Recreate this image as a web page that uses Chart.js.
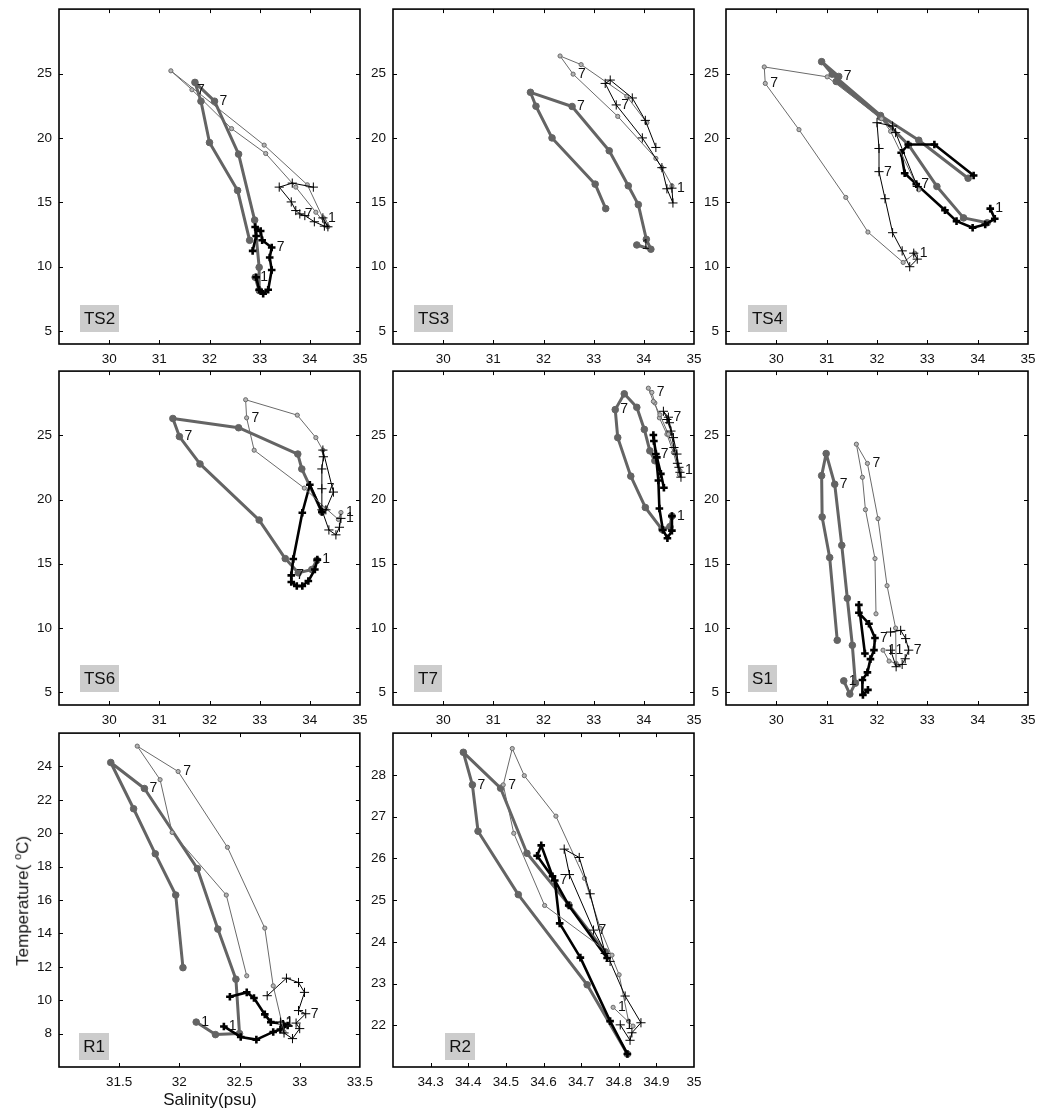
<!DOCTYPE html>
<html>
<head>
<meta charset="utf-8">
<script src="https://cdn.jsdelivr.net/npm/chart.js@4.4.1/dist/chart.umd.min.js"></script>
<style>
  html, body { margin: 0; padding: 0; background: #fff; }
  #wrap { position: relative; width: 1038px; height: 1110px; overflow: hidden;
          font-family: "Liberation Sans", Arial, Helvetica, sans-serif; color: #111; }
  #wrap canvas { position: absolute; }
  .axtitle { position: absolute; font-size: 17px; white-space: nowrap; text-align: center; line-height: 20px; }
  .axtitle sup { font-size: 11px; }
</style>
</head>
<body>
<div id="wrap"></div>
<script>
// ---- tick values ----
const tsSalTicks = [30, 31, 32, 33, 34, 35];
const tsTmpTicks = [5, 10, 15, 20, 25];
const r1SalTicks = [31.5, 32, 32.5, 33, 33.5];
const r1TmpTicks = [8, 10, 12, 14, 16, 18, 20, 22, 24];
const r2SalTicks = [34.3, 34.4, 34.5, 34.6, 34.7, 34.8, 34.9, 35];
const r2TmpTicks = [22, 23, 24, 25, 26, 27, 28];

// ---- station TS2 ----
const TS2_salA = [32.91, 32.99, 32.99, 32.90, 32.58, 32.10, 31.71, 31.83, 32.00, 32.56, 32.80];
const TS2_tmpA = [9.18, 8.15, 9.95, 13.62, 18.74, 22.85, 24.31, 22.85, 19.64, 15.92, 12.05];
const TS2_salB = [32.93, 32.99, 33.07, 33.17, 33.24, 33.20, 33.24, 33.05, 33.02, 32.91, 32.93, 32.86];
const TS2_tmpB = [9.18, 8.21, 7.90, 8.21, 9.74, 10.72, 11.49, 12.05, 12.77, 13.08, 12.38, 11.23];
const TS2_salC = [34.27, 34.36, 34.12, 33.72, 33.12, 32.44, 31.65, 31.23, 33.09, 33.95, 34.29];
const TS2_tmpC = [13.79, 13.10, 14.23, 16.18, 18.79, 20.72, 23.74, 25.21, 19.44, 16.36, 13.54];
const TS2_salD = [34.26, 34.36, 34.29, 34.09, 33.90, 33.80, 33.72, 33.63, 33.39, 33.65, 34.07];
const TS2_tmpD = [13.79, 13.10, 13.15, 13.49, 13.97, 14.10, 14.36, 15.03, 16.18, 16.49, 16.18];
const TS2_marks = [['A', 0, '1'], ['A', 5, '7'], ['B', 6, '7'], ['C', 6, '7'], ['D', 0, '1'], ['D', 5, '7']];

// ---- station TS3 ----
const TS3_salA = [33.86, 34.14, 34.05, 33.89, 33.69, 33.31, 32.57, 31.74, 31.85, 32.17, 33.03, 33.24];
const TS3_tmpA = [11.69, 11.36, 12.13, 14.82, 16.28, 19.0, 22.44, 23.54, 22.46, 20.0, 16.41, 14.51];
const TS3_salC = [34.56, 34.36, 34.24, 33.48, 32.59, 32.33, 32.75, 33.66, 34.06];
const TS3_tmpC = [16.28, 17.69, 18.41, 21.67, 24.95, 26.36, 25.69, 23.23, 21.18];
const TS3_salD = [34.56, 34.58, 34.46, 34.36, 33.97, 33.45, 33.23, 33.33, 33.77, 34.03, 34.24];
const TS3_tmpD = [16.10, 14.95, 16.05, 17.69, 20.0, 22.56, 24.23, 24.49, 23.1, 21.36, 19.26];
const TS3_marks = [['A', 0, '1'], ['A', 6, '7'], ['C', 4, '7'], ['D', 0, '1'], ['D', 5, '7']];

// ---- station TS4 ----
const TS4_salA = [34.19, 33.72, 33.19, 32.63, 32.07, 31.19, 31.24, 30.90, 31.11, 32.07, 32.83, 33.81];
const TS4_tmpA = [13.41, 13.79, 16.23, 19.44, 21.62, 24.38, 24.77, 25.92, 24.95, 21.74, 19.82, 16.87];
const TS4_salB = [34.25, 34.34, 34.15, 33.90, 33.58, 33.35, 32.78, 32.55, 32.48, 32.62, 33.14, 33.92];
const TS4_tmpB = [14.51, 13.72, 13.28, 13.03, 13.54, 14.38, 16.41, 17.26, 18.85, 19.49, 19.49, 17.08];
const TS4_salC = [32.75, 32.52, 31.82, 31.38, 30.45, 29.78, 29.76, 31.01, 32.09, 32.27, 32.83];
const TS4_tmpC = [11.05, 10.33, 12.69, 15.38, 20.64, 24.23, 25.51, 24.74, 21.49, 20.51, 15.97];
const TS4_salD = [32.73, 32.80, 32.65, 32.50, 32.31, 32.16, 32.04, 32.04, 32.0, 32.31, 32.37, 32.80];
const TS4_tmpD = [11.05, 10.59, 10.0, 11.23, 12.64, 15.28, 17.38, 19.18, 21.18, 20.92, 20.41, 16.23];
const TS4_marks = [['A', 6, '7'], ['B', 0, '1'], ['B', 6, '7'], ['C', 0, '1'], ['C', 5, '7'], ['D', 6, '7']];

// ---- station TS6 ----
const TS6_salA = [34.14, 34.04, 33.77, 33.51, 32.99, 31.81, 31.40, 31.27, 32.58, 33.76, 33.84, 34.24];
const TS6_tmpA = [15.27, 14.55, 14.29, 15.40, 18.40, 22.77, 24.90, 26.31, 25.59, 23.54, 22.38, 19.04];
const TS6_salB = [34.15, 34.10, 33.97, 33.85, 33.74, 33.63, 33.63, 33.67, 33.85, 34.0, 34.24];
const TS6_tmpB = [15.32, 14.55, 13.65, 13.27, 13.27, 13.58, 14.09, 15.37, 18.97, 21.15, 19.04];
const TS6_salC = [34.62, 34.57, 34.32, 33.89, 32.89, 32.74, 32.72, 33.75, 34.12, 34.26];
const TS6_tmpC = [18.99, 18.45, 19.30, 20.89, 23.84, 26.36, 27.77, 26.57, 24.82, 23.84];
const TS6_salD = [34.62, 34.59, 34.52, 34.38, 34.24, 34.24, 34.24, 34.27, 34.26, 34.47, 34.32];
const TS6_tmpD = [18.53, 17.84, 17.25, 17.63, 19.20, 20.84, 22.38, 23.33, 23.85, 20.58, 19.20];
const TS6_marks = [['A', 6, '7'], ['B', 0, '1'], ['B', 6, '7'], ['C', 0, '1'], ['C', 5, '7'], ['D', 0, '1'], ['D', 5, '7']];

// ---- station T7 ----
const T7_salA = [34.56, 34.52, 34.36, 34.03, 33.74, 33.48, 33.43, 33.61, 33.86, 34.01, 34.12, 34.22];
const T7_tmpA = [18.71, 17.89, 17.68, 19.38, 21.82, 24.82, 27.0, 28.23, 27.18, 25.46, 23.79, 23.02];
const T7_salB = [34.56, 34.56, 34.47, 34.38, 34.31, 34.29, 34.24, 34.19, 34.20, 34.26, 34.34, 34.40];
const T7_tmpB = [18.71, 17.58, 16.99, 17.63, 19.30, 21.48, 23.54, 25.03, 24.56, 23.28, 22.0, 20.92];
const T7_salC = [34.72, 34.71, 34.59, 34.46, 34.31, 34.22, 34.16, 34.09, 34.19, 34.32, 34.49, 34.62];
const T7_tmpC = [22.25, 21.94, 23.66, 25.08, 26.36, 27.52, 28.34, 28.67, 27.64, 26.6, 25.08, 23.66];
const T7_salD = [34.72, 34.74, 34.67, 34.60, 34.54, 34.46, 34.49, 34.39, 34.51, 34.59, 34.66, 34.70];
const T7_tmpD = [22.12, 21.74, 22.82, 24.05, 25.33, 26.23, 26.41, 26.87, 25.98, 24.82, 23.54, 22.51];
const T7_marks = [['A', 6, '7'], ['B', 0, '1'], ['B', 6, '7'], ['C', 0, '1'], ['C', 6, '7'], ['D', 6, '7']];

// ---- station S1 ----
const S1_salA = [31.34, 31.46, 31.57, 31.51, 31.41, 31.30, 31.16, 30.99, 30.90, 30.91, 31.06, 31.21];
const S1_tmpA = [5.88, 4.85, 5.70, 8.65, 12.31, 16.43, 21.19, 23.58, 21.86, 18.64, 15.48, 9.04];
const S1_salB = [31.82, 31.72, 31.71, 31.81, 31.87, 31.94, 31.96, 31.84, 31.64, 31.64, 31.76];
const S1_tmpB = [5.18, 4.79, 5.95, 6.54, 7.57, 8.27, 9.22, 10.33, 11.18, 11.80, 8.01];
const S1_salC = [32.12, 32.24, 32.38, 32.37, 32.20, 32.02, 31.81, 31.59, 31.71, 31.77, 31.96, 31.98];
const S1_tmpC = [8.27, 7.42, 7.24, 9.99, 13.29, 18.51, 22.81, 24.31, 21.73, 19.21, 15.40, 11.10];
const S1_salD = [32.27, 32.38, 32.50, 32.56, 32.63, 32.57, 32.47, 32.27];
const S1_tmpD = [8.27, 6.98, 7.16, 7.60, 8.27, 9.17, 9.81, 9.68];
const S1_marks = [['A', 0, '1'], ['A', 6, '7'], ['B', 6, '7'], ['C', 0, '1'], ['C', 6, '7'], ['D', 0, '1'], ['D', 4, '7']];

// ---- station R1 ----
const R1_salA = [32.14, 32.30, 32.50, 32.47, 32.32, 32.15, 31.71, 31.43, 31.62, 31.80, 31.97, 32.03];
const R1_tmpA = [8.69, 7.94, 8.0, 11.26, 14.26, 17.88, 22.68, 24.24, 21.47, 18.77, 16.30, 11.95];
const R1_salB = [32.37, 32.51, 32.64, 32.78, 32.84, 32.90, 32.86, 32.76, 32.71, 32.62, 32.56, 32.42];
const R1_tmpB = [8.43, 7.80, 7.64, 8.10, 8.24, 8.49, 8.59, 8.69, 9.15, 10.13, 10.47, 10.21];
const R1_salC = [32.84, 32.87, 32.78, 32.71, 32.40, 31.99, 31.65, 31.84, 31.94, 32.39, 32.56];
const R1_tmpC = [8.63, 8.10, 10.86, 14.32, 19.16, 23.70, 25.22, 23.21, 20.05, 16.30, 11.46];
const R1_salD = [32.84, 32.87, 32.94, 33.0, 32.97, 33.05, 32.99, 33.04, 32.99, 32.89, 32.73];
const R1_tmpD = [8.69, 8.04, 7.70, 8.30, 8.63, 9.19, 9.38, 10.47, 11.06, 11.32, 10.27];
const R1_marks = [['A', 0, '1'], ['A', 6, '7'], ['B', 0, '1'], ['C', 0, '1'], ['C', 5, '7'], ['D', 0, '1'], ['D', 5, '7']];

// ---- station R2 ----
const R2_salA = [34.823, 34.716, 34.533, 34.426, 34.411, 34.387, 34.486, 34.556, 34.667, 34.764];
const R2_tmpA = [21.31, 22.97, 25.13, 26.65, 27.76, 28.54, 27.68, 26.12, 24.89, 23.76];
const R2_salB = [34.823, 34.777, 34.698, 34.643, 34.630, 34.583, 34.594, 34.624, 34.667, 34.769];
const R2_tmpB = [21.31, 22.10, 23.62, 24.44, 25.47, 26.06, 26.31, 25.57, 24.87, 23.61];
const R2_salC = [34.785, 34.838, 34.826, 34.801, 34.751, 34.709, 34.633, 34.549, 34.517, 34.493, 34.521, 34.603, 34.782];
const R2_tmpC = [22.43, 21.98, 22.10, 23.21, 24.32, 25.52, 27.01, 27.98, 28.63, 27.76, 26.60, 24.87, 23.68];
const R2_salD = [34.804, 34.830, 34.835, 34.859, 34.817, 34.777, 34.733, 34.669, 34.655, 34.695, 34.724, 34.764];
const R2_tmpD = [22.01, 21.64, 21.82, 22.06, 22.70, 23.53, 24.28, 25.61, 26.22, 26.02, 25.15, 23.72];
const R2_marks = [['A', 4, '7'], ['B', 4, '7'], ['C', 0, '1'], ['C', 9, '7'], ['D', 0, '1'], ['D', 6, '7']];

// ---- layout ----
const FONT = '"Liberation Sans", Arial, Helvetica, sans-serif';
const COLS = [{ L: 59, W: 301 }, { L: 393, W: 301 }, { L: 726, W: 302 }];
const ROWS = [{ T: 6, H: 338 }, { T: 368, H: 337 }, { T: 730, H: 337 }];

const TS_X = [29, 35], TS_Y = [4, 30];

const PANELS = [
  { name: 'TS2', col: 0, row: 0, xr: TS_X, yr: TS_Y, xt: tsSalTicks, yt: tsTmpTicks, box: [21, 12],
    series: { A: [TS2_salA, TS2_tmpA], B: [TS2_salB, TS2_tmpB], C: [TS2_salC, TS2_tmpC], D: [TS2_salD, TS2_tmpD] }, marks: TS2_marks },
  { name: 'TS3', col: 1, row: 0, xr: TS_X, yr: TS_Y, xt: tsSalTicks, yt: tsTmpTicks, box: [21, 12],
    series: { A: [TS3_salA, TS3_tmpA], C: [TS3_salC, TS3_tmpC], D: [TS3_salD, TS3_tmpD] }, marks: TS3_marks },
  { name: 'TS4', col: 2, row: 0, xr: TS_X, yr: TS_Y, xt: tsSalTicks, yt: tsTmpTicks, box: [22, 12],
    series: { A: [TS4_salA, TS4_tmpA], B: [TS4_salB, TS4_tmpB], C: [TS4_salC, TS4_tmpC], D: [TS4_salD, TS4_tmpD] }, marks: TS4_marks },
  { name: 'TS6', col: 0, row: 1, xr: TS_X, yr: TS_Y, xt: tsSalTicks, yt: tsTmpTicks, box: [21, 13],
    series: { A: [TS6_salA, TS6_tmpA], B: [TS6_salB, TS6_tmpB], C: [TS6_salC, TS6_tmpC], D: [TS6_salD, TS6_tmpD] }, marks: TS6_marks },
  { name: 'T7', col: 1, row: 1, xr: TS_X, yr: TS_Y, xt: tsSalTicks, yt: tsTmpTicks, box: [21, 13],
    series: { A: [T7_salA, T7_tmpA], B: [T7_salB, T7_tmpB], C: [T7_salC, T7_tmpC], D: [T7_salD, T7_tmpD] }, marks: T7_marks },
  { name: 'S1', col: 2, row: 1, xr: TS_X, yr: TS_Y, xt: tsSalTicks, yt: tsTmpTicks, box: [22, 13],
    series: { A: [S1_salA, S1_tmpA], B: [S1_salB, S1_tmpB], C: [S1_salC, S1_tmpC], D: [S1_salD, S1_tmpD] }, marks: S1_marks },
  { name: 'R1', col: 0, row: 2, xr: [31, 33.5], yr: [6, 26], xt: r1SalTicks, yt: r1TmpTicks, box: [20, 7],
    series: { A: [R1_salA, R1_tmpA], B: [R1_salB, R1_tmpB], C: [R1_salC, R1_tmpC], D: [R1_salD, R1_tmpD] }, marks: R1_marks },
  { name: 'R2', col: 1, row: 2, xr: [34.2, 35], yr: [21, 29], xt: r2SalTicks, yt: r2TmpTicks, box: [52, 7],
    series: { A: [R2_salA, R2_tmpA], B: [R2_salB, R2_tmpB], C: [R2_salC, R2_tmpC], D: [R2_salD, R2_tmpD] }, marks: R2_marks }
];

// line / marker looks of the four series
const LOOK = {
  A: { line: '#646464', lw: 3, style: 'circle', r: 3.3, fill: '#646464', edge: '#646464', ew: 1, order: 3 },
  B: { line: '#000000', lw: 2.6, style: 'cross', r: 3.8, fill: '#000000', edge: '#000000', ew: 2.6, order: 2 },
  C: { line: '#6a6a6a', lw: 1, style: 'circle', r: 2.1, fill: '#b4b4b4', edge: '#6a6a6a', ew: 1, order: 1 },
  D: { line: '#000000', lw: 1, style: 'cross', r: 4.6, fill: '#000000', edge: '#000000', ew: 1, order: 0 }
};

const fmt = v => String(Math.round(v * 10) / 10);

// frame, inward ticks, station tag and month numbers
const decoPlugin = {
  id: 'deco',
  afterDatasetsDraw(chart) {
    const p = chart.$panel;
    const ctx = chart.ctx, a = chart.chartArea;
    const xs = chart.scales.x, ys = chart.scales.y;
    ctx.save();
    // month numbers next to points
    ctx.font = '14px ' + FONT;
    ctx.fillStyle = '#111';
    ctx.textAlign = 'left';
    ctx.textBaseline = 'middle';
    p.marks.forEach(([key, i, txt]) => {
      const s = p.series[key];
      if (!s) return;
      const px = xs.getPixelForValue(s[0][i]);
      const py = ys.getPixelForValue(s[1][i]);
      ctx.fillText(txt, px + 5, py);
    });
    // station tag
    ctx.font = '17px ' + FONT;
    const tw = ctx.measureText(p.name).width;
    const bw = Math.round(tw + 8), bh = 27;
    const bx = a.left + p.box[0], by = a.bottom - p.box[1] - bh;
    ctx.fillStyle = '#cccccc';
    ctx.fillRect(bx, by, bw, bh);
    ctx.fillStyle = '#111';
    ctx.textAlign = 'center';
    ctx.fillText(p.name, bx + bw / 2, by + bh / 2 + 1);
    ctx.restore();
  },
  afterDraw(chart) {
    const p = chart.$panel;
    const ctx = chart.ctx, a = chart.chartArea;
    const xs = chart.scales.x, ys = chart.scales.y;
    ctx.save();
    ctx.strokeStyle = '#000';
    ctx.lineWidth = 1;
    const TL = 4;
    ctx.beginPath();
    p.xt.forEach(v => {
      const x = Math.round(xs.getPixelForValue(v)) + 0.5;
      if (x <= a.left + 1 || x >= a.right - 1) return;
      ctx.moveTo(x, a.bottom); ctx.lineTo(x, a.bottom - TL);
      ctx.moveTo(x, a.top); ctx.lineTo(x, a.top + TL);
    });
    p.yt.forEach(v => {
      const y = Math.round(ys.getPixelForValue(v)) + 0.5;
      if (y <= a.top + 1 || y >= a.bottom - 1) return;
      ctx.moveTo(a.left, y); ctx.lineTo(a.left + TL, y);
      ctx.moveTo(a.right, y); ctx.lineTo(a.right - TL, y);
    });
    ctx.stroke();
    ctx.lineWidth = 1.6;
    ctx.strokeRect(a.left, a.top, a.right - a.left, a.bottom - a.top);
    ctx.restore();
  }
};

const wrap = document.getElementById('wrap');
const PL = 56, PT = 12, PR = 20, PB = 36;

PANELS.forEach(p => {
  const col = COLS[p.col], row = ROWS[p.row];
  const cv = document.createElement('canvas');
  cv.width = col.W + PL + PR;
  cv.height = row.H + PT + PB;
  cv.style.left = (col.L - PL) + 'px';
  cv.style.top = (row.T - PT) + 'px';
  wrap.appendChild(cv);

  const datasets = Object.keys(p.series).map(key => {
    const [sal, tmp] = p.series[key];
    const lk = LOOK[key];
    return {
      data: sal.map((s, i) => ({ x: s, y: tmp[i] })),
      showLine: true,
      borderColor: lk.line,
      borderWidth: lk.lw,
      borderJoinStyle: 'round',
      borderCapStyle: 'round',
      pointStyle: lk.style,
      pointRadius: lk.r,
      pointBackgroundColor: lk.fill,
      pointBorderColor: lk.edge,
      pointBorderWidth: lk.ew,
      tension: 0,
      order: lk.order,
      clip: 4
    };
  });

  const tickFont = { family: FONT, size: 13.5 };
  new Chart(cv, {
    type: 'scatter',
    data: { datasets },
    options: {
      responsive: false,
      animation: false,
      events: [],
      layout: { padding: { left: 0, top: PT, right: PR, bottom: 0 } },
      plugins: { legend: { display: false }, tooltip: { enabled: false } },
      scales: {
        x: {
          type: 'linear', position: 'bottom', min: p.xr[0], max: p.xr[1],
          afterBuildTicks: s => { s.ticks = p.xt.map(v => ({ value: v })); },
          afterFit: s => { s.height = PB; },
          grid: { display: false, drawTicks: false },
          border: { display: false },
          ticks: { padding: 7, color: '#111', font: tickFont, maxRotation: 0, autoSkip: false, callback: v => fmt(v) }
        },
        y: {
          type: 'linear', position: 'left', min: p.yr[0], max: p.yr[1],
          afterBuildTicks: s => { s.ticks = p.yt.map(v => ({ value: v })); },
          afterFit: s => { s.width = PL; },
          grid: { display: false, drawTicks: false },
          border: { display: false },
          ticks: { padding: 7, color: '#111', font: tickFont, autoSkip: false, callback: v => fmt(v) }
        }
      }
    },
    plugins: [{ id: 'bind', beforeInit(c) { c.$panel = p; } }, decoPlugin]
  });
});

// axis titles on the lower-left panel
const ty = document.createElement('div');
ty.className = 'axtitle';
ty.innerHTML = 'Temperature( <sup>o</sup>C)';
ty.style.width = '300px';
ty.style.left = (20 - 150) + 'px';
ty.style.top = (898 - 10) + 'px';
ty.style.transform = 'rotate(-90deg)';
wrap.appendChild(ty);

const tx = document.createElement('div');
tx.className = 'axtitle';
tx.textContent = 'Salinity(psu)';
tx.style.width = '200px';
tx.style.left = (210 - 100) + 'px';
tx.style.top = (1100 - 10) + 'px';
wrap.appendChild(tx);
</script>
</body>
</html>
